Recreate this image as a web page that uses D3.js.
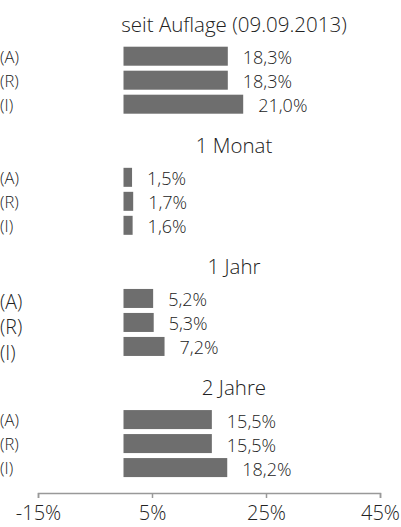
<!DOCTYPE html>
<html>
<head>
<meta charset="utf-8">
<script src="https://cdn.jsdelivr.net/npm/d3@7"></script>
<style>
  body { margin: 0; background: #fff; }
  svg text { font-family: "Open Sans", sans-serif; font-weight: 300; fill: #222; }
</style>
</head>
<body>
<svg id="chart"></svg>
<script>
// periods (one block each) and share classes
const periods = ['seit Auflage (09.09.2013)', '1 Monat', '1 Jahr', '2 Jahre'];
const classes = ['(A)', '(R)', '(I)'];

// performance in % per class, one value per period
const valuesA = [18.3, 1.5, 5.2, 15.5];
const valuesR = [18.3, 1.7, 5.3, 15.5];
const valuesI = [21.0, 1.6, 7.2, 18.2];

const tickValues = [-15, 5, 25, 45];

const seriesValues = [valuesA, valuesR, valuesI];

const width = 401, height = 527;

const svg = d3.select('#chart')
    .attr('width', width)
    .attr('height', height);

const xScale = d3.scaleLinear()
    .domain([-15, 45])
    .range([38, 380]);

const groupScale = d3.scaleBand()
    .domain(periods)
    .range([7.5, 492])
    .padding(0);

const barScale = d3.scaleBand()
    .domain(classes)
    .range([0, 67])
    .paddingInner(0.208)
    .paddingOuter(0);

const fmt = v => d3.format('.1f')(v).replace('.', ',') + '%';

// the "1 Jahr" block uses a larger label font in the original
const labelStyle = {
    '1 Jahr': { size: 19.5, step: 25.5, shift: 3 }
};

periods.forEach((period, gi) => {
    const y0 = groupScale(period);
    const g = svg.append('g')
        .attr('transform', `translate(0,${y0})`);

    g.append('text')
        .attr('x', 234)
        .attr('y', 24.5)
        .attr('text-anchor', 'middle')
        .style('font-size', '20.5px')
        .text(period);

    const rows = classes.map((c, i) => ({ cls: c, value: seriesValues[i][gi] }));

    const body = g.append('g')
        .attr('transform', 'translate(0,39.2)');

    body.selectAll('rect')
        .data(rows)
        .join('rect')
        .attr('x', xScale(0))
        .attr('y', d => barScale(d.cls))
        .attr('width', d => xScale(d.value) - xScale(0))
        .attr('height', barScale.bandwidth())
        .attr('fill', '#6e6e6e');

    body.selectAll('text.value')
        .data(rows)
        .join('text')
        .attr('class', 'value')
        .attr('x', d => xScale(d.value) + 15)
        .attr('y', d => barScale(d.cls) + barScale.bandwidth() / 2 + 1)
        .attr('dominant-baseline', 'central')
        .style('font-size', '18px')
        .text(d => fmt(d.value));

    const ls = labelStyle[period] || { size: 16.5, step: barScale.step(), shift: 0 };
    body.selectAll('text.cls')
        .data(rows)
        .join('text')
        .attr('class', 'cls')
        .attr('x', 0)
        .attr('y', (d, i) => barScale.bandwidth() / 2 + ls.shift + i * ls.step)
        .attr('dominant-baseline', 'central')
        .style('font-size', ls.size + 'px')
        .text(d => d.cls);
});

const xAxis = d3.axisBottom(xScale)
    .tickValues(tickValues)
    .tickSize(5)
    .tickSizeOuter(5)
    .tickPadding(8)
    .tickFormat(d => d + '%');

const axisG = svg.append('g')
    .attr('transform', 'translate(0,493)')
    .call(xAxis);

axisG.select('.domain')
    .attr('stroke', '#999')
    .attr('stroke-width', 1.5);
axisG.selectAll('.tick line')
    .attr('stroke', '#999')
    .attr('stroke-width', 1.5);
axisG.selectAll('.tick text')
    .style('font-size', '20px')
    .attr('fill', '#222');
</script>
</body>
</html>
